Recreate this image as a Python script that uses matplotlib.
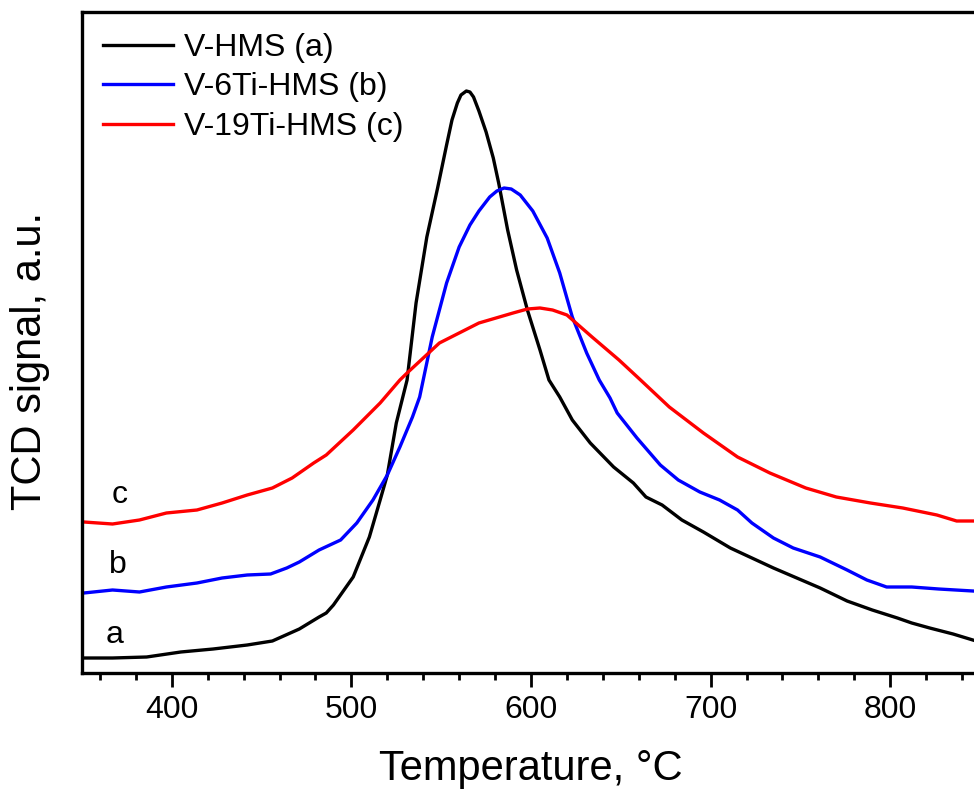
import matplotlib
matplotlib.use('Agg')
import matplotlib.pyplot as plt
from matplotlib.ticker import MultipleLocator

plt.rcParams['font.family'] = ['Liberation Sans', 'DejaVu Sans']

# V-HMS (a)
temp_a = [351, 367, 386, 405, 423, 442, 456, 471, 482, 486, 490, 501, 510, 516, 520, 525, 531,
          536, 542, 548, 553, 556, 559, 561, 564, 566, 568, 571, 575, 579, 582, 587, 592, 598,
          605, 610, 616, 623, 633, 646, 657, 664, 673, 684, 696, 711, 723, 735, 748, 761, 776,
          790, 804, 812, 822, 835, 846]
sig_a = [15, 15, 16, 21, 24, 28, 32, 44, 56, 60, 68, 96, 136, 173, 198, 250, 293,
         370, 436, 485, 528, 553, 570, 578, 582, 581, 576, 562, 541, 515, 490, 443, 403, 363,
         323, 293, 276, 253, 230, 206, 190, 176, 168, 153, 141, 125, 115, 105, 95, 85, 72,
         63, 55, 50, 45, 39, 33]

# V-6Ti-HMS (b)
temp_b = [351, 367, 382, 397, 414, 428, 442, 455, 464, 471, 482, 494, 503, 512, 520, 527, 534,
          538, 545, 553, 560, 566, 571, 577, 581, 585, 589, 594, 601, 609, 616, 623, 631, 638,
          644, 648, 659, 672, 682, 694, 705, 715, 723, 735, 746, 761, 776, 787, 798, 812, 827, 846]
sig_b = [80, 83, 81, 86, 90, 95, 98, 99, 105, 111, 123, 133, 150, 173, 198, 226, 256,
         276, 336, 390, 426, 448, 462, 476, 482, 485, 484, 478, 462, 435, 400, 356, 320, 293,
         275, 260, 235, 208, 193, 181, 173, 163, 150, 135, 125, 116, 103, 93, 86, 86, 84, 82]

# V-19Ti-HMS (c)
temp_c = [351, 367, 382, 397, 414, 428, 442, 456, 467, 479, 486, 501, 516, 527, 531, 549, 571,
          590, 598, 605, 612, 620, 634, 649, 661, 677, 696, 715, 733, 753, 770, 789, 807, 826,
          837, 846]
sig_c = [151, 149, 153, 160, 163, 170, 178, 185, 195, 210, 218, 243, 270, 293, 300, 330, 350,
         360, 364, 365, 363, 358, 336, 313, 293, 266, 240, 216, 200, 185, 176, 170, 165, 158,
         152, 152]

labels = ['V-HMS (a)', 'V-6Ti-HMS (b)', 'V-19Ti-HMS (c)']
colors = ['black', '#0000ff', '#ff0000']

fig = plt.figure(figsize=(9.74, 7.95), dpi=100)
ax = fig.add_axes([82/974, 122/795, 898/974, 661/795])

for t, s, c, lab in zip([temp_a, temp_b, temp_c], [sig_a, sig_b, sig_c], colors, labels):
    ax.plot(t, s, color=c, lw=2.4, label=lab, solid_joinstyle='round')

ax.text(368, 38, 'a', fontsize=23, ha='center', va='center')
ax.text(370, 108, 'b', fontsize=23, ha='center', va='center')
ax.text(371, 178, 'c', fontsize=23, ha='center', va='center')

ax.set_xlim(350, 850)
ax.set_ylim(0, 661)
ax.xaxis.set_major_locator(MultipleLocator(100))
ax.xaxis.set_minor_locator(MultipleLocator(20))
ax.set_yticks([])
ax.tick_params(axis='x', which='major', direction='out', length=10, width=2, labelsize=23, pad=6)
ax.tick_params(axis='x', which='minor', direction='out', length=5, width=2)
for s in ['left', 'bottom', 'top']:
    ax.spines[s].set_linewidth(2.4)
ax.spines['right'].set_visible(False)

ax.set_xlabel('Temperature, °C', fontsize=30, labelpad=17)
ax.set_ylabel('TCD signal, a.u.', fontsize=30)
ax.yaxis.set_label_coords(-0.036, 0.472)

ax.legend(loc='upper left', frameon=False, fontsize=23, handlelength=2.2,
          handletextpad=0.35, labelspacing=0.3, borderaxespad=0.25, bbox_to_anchor=(0.0, 1.0))

fig.savefig('out.png', dpi=100)
